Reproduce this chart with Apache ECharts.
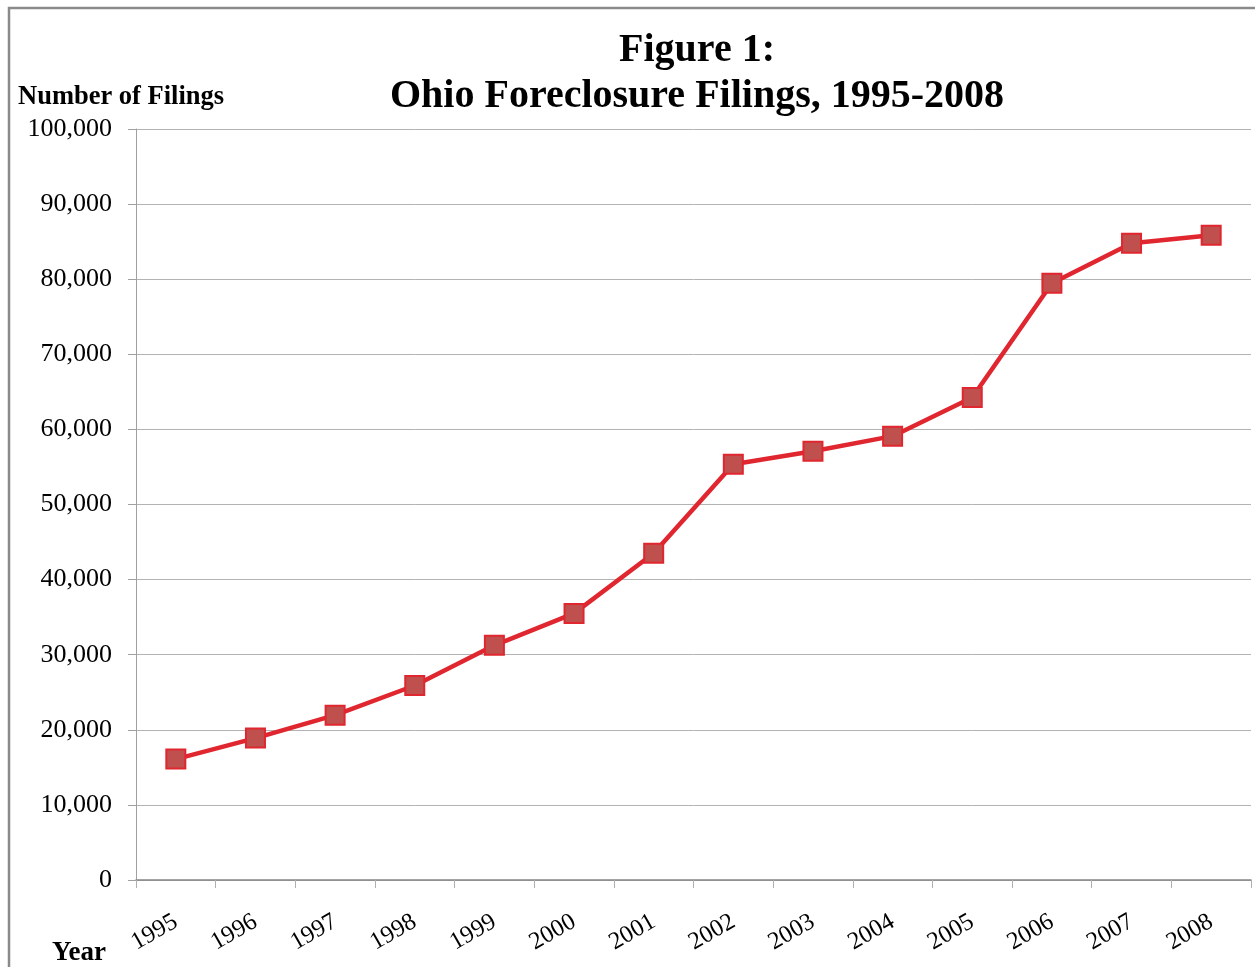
<!DOCTYPE html>
<html>
<head>
<meta charset="utf-8">
<script src="https://cdn.jsdelivr.net/npm/echarts@6/dist/echarts.min.js"></script>
<style>
html,body{margin:0;padding:0;background:#fff;}
#chart{width:1255px;height:967px;}
</style>
</head>
<body>
<div id="chart"></div>
<script>
const years = ['1995','1996','1997','1998','1999','2000','2001','2002','2003','2004','2005','2006','2007','2008'];
const filings = [16100, 18900, 21950, 25900, 31250, 35500, 43500, 55350, 57100, 59100, 64250, 79450, 84800, 85850];
const titleLines = ['Figure 1:', 'Ohio Foreclosure Filings, 1995-2008'];
const yAxisTitle = 'Number of Filings';
const xAxisTitle = 'Year';

const serif = '"Liberation Serif", "Times New Roman", serif';
const chart = echarts.init(document.getElementById('chart'));
chart.setOption({
  animation: false,
  backgroundColor: '#ffffff',
  grid: {left: 136, right: 4, top: 129, bottom: 87},
  graphic: [
    {type: 'rect', shape: {x: 9, y: 8, width: 2000, height: 2000},
     style: {fill: 'none', stroke: '#8a8a8a', lineWidth: 2.5}, silent: true},
    {type: 'text', x: 697, y: 74,
     style: {text: titleLines.join('\n'), font: 'bold 40px ' + serif, fill: '#000',
             textAlign: 'center', textVerticalAlign: 'middle', lineHeight: 46}},
    {type: 'text', x: 18, y: 97,
     style: {text: yAxisTitle, font: 'bold 26.5px ' + serif, fill: '#000',
             textAlign: 'left', textVerticalAlign: 'middle'}},
    {type: 'text', x: 52, y: 953,
     style: {text: xAxisTitle, font: 'bold 27px ' + serif, fill: '#000',
             textAlign: 'left', textVerticalAlign: 'middle'}}
  ],
  xAxis: {
    type: 'category',
    data: years,
    boundaryGap: true,
    axisLine: {lineStyle: {color: '#878787', width: 1.5}},
    axisTick: {show: true, length: 8, lineStyle: {color: '#b0b0b0'}},
    axisLabel: {interval: 0, rotate: 30, margin: 40, fontSize: 24.5, fontFamily: serif, color: '#000'},
    splitLine: {show: false}
  },
  yAxis: {
    type: 'value',
    min: 0, max: 100000, interval: 10000,
    axisLine: {show: true, lineStyle: {color: '#a0a0a0'}},
    axisTick: {show: true, length: 8, lineStyle: {color: '#a0a0a0'}},
    axisLabel: {margin: 24, fontSize: 26, fontFamily: serif, color: '#000',
                formatter: v => v.toLocaleString('en-US')},
    splitLine: {show: true, lineStyle: {color: '#b3b3b3', width: 1}}
  },
  series: [{
    type: 'line',
    data: filings,
    symbol: 'rect',
    symbolSize: 19,
    lineStyle: {color: '#e0262f', width: 4.5},
    itemStyle: {color: '#c0504d', borderColor: '#e0262f', borderWidth: 2},
    z: 3
  }]
});
</script>
</body>
</html>
